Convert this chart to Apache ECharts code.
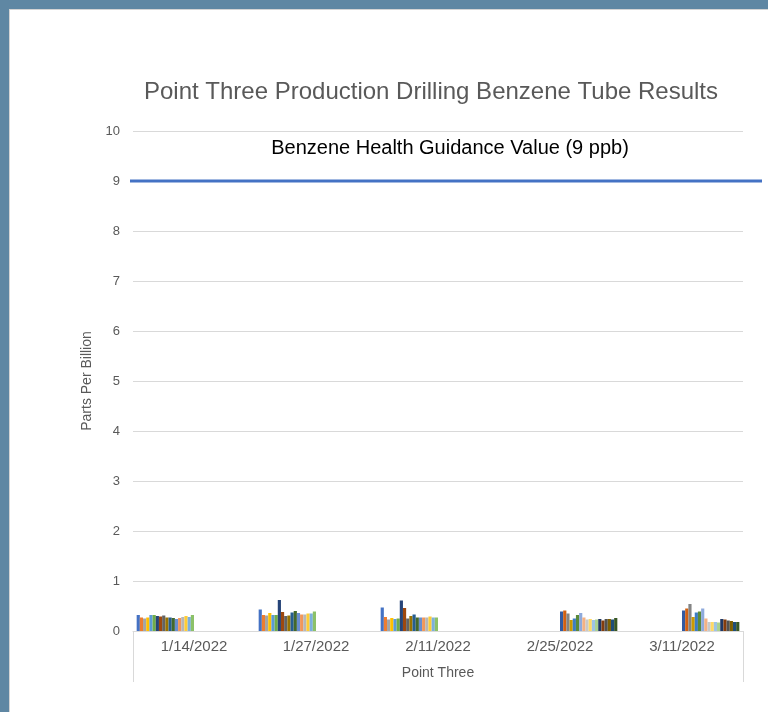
<!DOCTYPE html>
<html>
<head>
<meta charset="utf-8">
<script src="https://cdn.jsdelivr.net/npm/echarts@6/dist/echarts.min.js"></script>
<style>
html,body{margin:0;padding:0;background:#5f87a3;width:768px;height:712px;overflow:hidden;}
#frame{position:absolute;left:9px;top:9px;width:759px;height:703px;box-sizing:border-box;border-left:1px solid #d4d4d4;border-top:1px solid #d4d4d4;background:#fff;}
#chart{width:758px;height:702px;}
</style>
</head>
<body>
<div id="frame"><div id="chart"></div></div>
<script>
// ---- data ----
const categories = ['1/14/2022', '1/27/2022', '2/11/2022', '2/25/2022', '3/11/2022'];
const groupLabel = ['Point Three'];
// tubes sampled on the first three dates (series 1-18)
const jan14 = [0.32, 0.27, 0.25, 0.27, 0.32, 0.32, 0.30, 0.29, 0.31, 0.27, 0.27, 0.26, 0.24, 0.26, 0.28, 0.30, 0.28, 0.32];
const jan27 = [0.43, 0.32, 0.31, 0.36, 0.32, 0.32, 0.62, 0.38, 0.30, 0.31, 0.37, 0.40, 0.36, 0.33, 0.33, 0.35, 0.35, 0.39];
const feb11 = [0.47, 0.28, 0.23, 0.26, 0.24, 0.25, 0.61, 0.46, 0.25, 0.30, 0.33, 0.27, 0.27, 0.27, 0.27, 0.29, 0.27, 0.27];
// tubes sampled on the last two dates (series 19-36)
const feb25 = [0.39, 0.41, 0.35, 0.22, 0.25, 0.32, 0.36, 0.27, 0.23, 0.24, 0.22, 0.23, 0.24, 0.21, 0.24, 0.24, 0.23, 0.26];
const mar11 = [0.41, 0.45, 0.54, 0.28, 0.37, 0.39, 0.45, 0.25, 0.18, 0.18, 0.18, 0.17, 0.24, 0.23, 0.21, 0.20, 0.18, 0.18];
const guidanceValue = 9;
const guidanceLabel = 'Benzene Health Guidance Value (9 ppb)';
const yTicks = [0, 1, 2, 3, 4, 5, 6, 7, 8, 9, 10];

const palette = [
  '#4472C4','#ED7D31','#A5A5A5','#FFC000','#5B9BD5','#70AD47',
  '#264478','#9E480E','#636363','#997300','#255E91','#43682B',
  '#698ED0','#F1975A','#B7B7B7','#FFCD33','#7CAFDD','#8CC168',
  '#335AA1','#D26012','#848484','#CC9A00','#3C7DC4','#5A8A39',
  '#8FAADC','#F4B183','#C9C9C9','#FFD966','#9DC3E6','#A9D18E',
  '#203864','#843C0C','#525252','#7F6000','#1F4E79','#385723'
];

const FONT = 'Liberation Sans';
const GRAY = '#595959';

const series = [];
for (let i = 0; i < jan14.length; i++) {
  series.push({
    name: 'Tube ' + (i + 1), type: 'bar', xAxisIndex: 0, yAxisIndex: 0,
    barGap: '0%', barCategoryGap: '6%',
    itemStyle: { color: palette[i] },
    data: [jan14[i], jan27[i], feb11[i], null, null]
  });
}
for (let i = 0; i < feb25.length; i++) {
  series.push({
    name: 'Tube ' + (i + 19), type: 'bar', xAxisIndex: 0, yAxisIndex: 0,
    barGap: '0%', barCategoryGap: '6%',
    itemStyle: { color: palette[18 + i] },
    data: [null, null, null, feb25[i], mar11[i]]
  });
}
series.push({
  name: 'Guidance', type: 'line', xAxisIndex: 2, yAxisIndex: 1,
  symbol: 'none', silent: true, z: 5,
  lineStyle: { color: '#4472C4', width: 3 },
  data: [[0, guidanceValue], [1, guidanceValue]]
});

const chart = echarts.init(document.getElementById('chart'), null, { renderer: 'canvas' });
chart.setOption({
  animation: false,
  backgroundColor: '#fff',
  textStyle: { fontFamily: FONT },
  title: [
    { text: 'Point Three Production Drilling Benzene Tube Results', left: 421, top: 70, textAlign: 'center', padding: 0,
      textStyle: { fontFamily: FONT, fontSize: 24, fontWeight: 'normal', color: GRAY } },
    { text: guidanceLabel, left: 440, top: 128, textAlign: 'center', padding: 0,
      textStyle: { fontFamily: FONT, fontSize: 20, fontWeight: 'normal', color: '#000' } }
  ],
  grid: [
    { left: 123, right: 25, top: 121, bottom: 81, containLabel: false },
    { left: 120, right: 6, top: 121, bottom: 81, containLabel: false }
  ],
  xAxis: [
    { type: 'category', gridIndex: 0, data: categories,
      axisLine: { show: true, lineStyle: { color: '#d9d9d9', width: 1 } },
      axisTick: { show: false },
      axisLabel: { color: GRAY, fontSize: 15, fontFamily: FONT, margin: 8 } },
    { type: 'category', gridIndex: 0, position: 'bottom', data: groupLabel,
      axisLine: { show: false },
      axisTick: { show: true, length: 51, lineStyle: { color: '#d9d9d9', width: 1 } },
      axisLabel: { color: GRAY, fontSize: 14, fontFamily: FONT, margin: 35 } },
    { type: 'value', gridIndex: 1, min: 0, max: 1, show: false }
  ],
  yAxis: [
    { type: 'value', gridIndex: 0, min: yTicks[0], max: yTicks[yTicks.length - 1], interval: 1,
      name: 'Parts Per Billion', nameLocation: 'middle', nameGap: 38,
      nameTextStyle: { color: GRAY, fontSize: 14, fontFamily: FONT },
      axisLine: { show: false }, axisTick: { show: false },
      axisLabel: { color: GRAY, fontSize: 13, fontFamily: FONT, margin: 13 },
      splitLine: { show: true, lineStyle: { color: '#d9d9d9', width: 1 } } },
    { type: 'value', gridIndex: 1, min: 0, max: 10, show: false }
  ],
  series: series
});
</script>
</body>
</html>
